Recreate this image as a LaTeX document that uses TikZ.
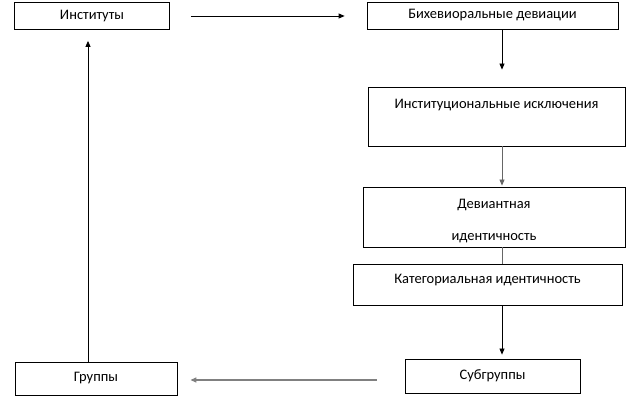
\documentclass[tikz,border=0pt]{standalone}
\usepackage{fontspec}
\setmainfont{Carlito}
\usetikzlibrary{arrows.meta, calc, positioning}

\begin{document}
\begin{tikzpicture}[x=1pt,y=-1pt,>={Triangle[length=6pt,width=5pt]},font=\fontsize{14.5}{17}\selectfont,
  box/.style={draw, line width=0.8pt, inner sep=0pt, align=center},
  arr/.style={->, line width=0.8pt},
  grayarr/.style={->, line width=1.2pt, black!50}]
  \useasboundingbox (0,0) rectangle (637,411);
  \coordinate (axis) at (502,0);
  % boxes
  \node[box, minimum width=155pt, minimum height=27pt] (inst) at (92,16) {Институты};
  \node[box, minimum width=251pt, minimum height=27pt] (bihev) at (492.5,15.5) {Бихевиоральные девиации};
  \node[box, minimum width=257pt, minimum height=59pt, text height=10pt, text depth=25pt] (exc) at (496.5,116.5) {Институциональные исключения};
  \node[box, minimum width=262pt, minimum height=60pt, font=\fontsize{14.5}{32}\selectfont] (dev) at (494,217) {\rule{0pt}{18pt}Девиантная\\идентичность};
  \node[box, minimum width=269pt, minimum height=41pt, text height=10pt, text depth=11pt] (cat) at (487.5,284.5) {Категориальная идентичность};
  \node[box, minimum width=175pt, minimum height=34pt] (sub) at (492.5,376) {Субгруппы};
  \node[box, minimum width=162pt, minimum height=33pt] (grp) at (96,378.5) {Группы};
  % connectors
  \draw[arr, shorten <=21pt, shorten >=22pt] (inst.east) -- (inst.east -| bihev.west);
  \draw[arr, shorten >=17pt] (bihev.south -| axis) -- (exc.north -| axis);
  \draw[arr, black!60, shorten >=1pt] (exc.south -| axis) -- (dev.north -| axis);
  \draw[line width=0.8pt, black!60] (dev.south -| axis) -- (cat.north -| axis);
  \draw[arr, shorten >=4pt] (cat.south -| axis) -- (sub.north -| axis);
  \draw[grayarr, shorten <=28pt, shorten >=13pt] ([yshift=-4pt]sub.west) -- ([yshift=-4pt]sub.west -| grp.east);
  \draw[arr, shorten >=11pt] ([xshift=-8pt]grp.north) -- ([xshift=-8pt]grp.north |- inst.south);
\end{tikzpicture}
\end{document}
